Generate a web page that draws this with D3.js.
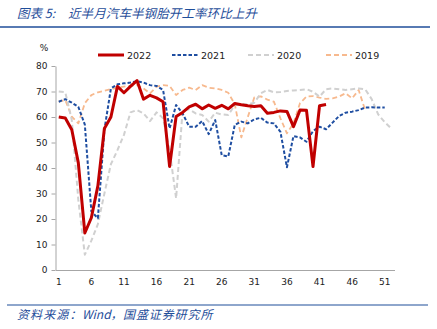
<!DOCTYPE html>
<html>
<head>
<meta charset="utf-8">
<script src="https://cdn.jsdelivr.net/npm/d3@7/dist/d3.min.js"></script>
<style>
  html, body { margin: 0; padding: 0; background: #fff; }
  svg { display: block; }
</style>
</head>
<body>
<svg id="chart" width="437" height="329"></svg>
<script>
// Weekly semi-steel tyre operating rate (%), week 1..52
const weeks = d3.range(1, 53);
const xTickWeeks = [1, 6, 11, 16, 21, 26, 31, 36, 41, 46, 51];
const yTicks = [0, 10, 20, 30, 40, 50, 60, 70, 80];

const rate2022 = [60, 59.6, 55, 42, 14.5, 20.5, 33, 55.5, 60, 72, 69.5, 72, 74.3, 67, 68.5, 67.5, 66, 40.6, 60.2, 61.8,
  64, 65, 63.2, 64.7, 63.4, 64.6, 63.2, 65.3, 64.8, 64.4, 64.1, 64.4, 61.5, 61.8, 62.4, 62.2, 56.2, 62.7, 62.6, 40.6,
  64.4, 64.9];
const rate2021 = [66, 67, 65.6, 64, 57, 23, 20.3, 55, 71.2, 72.8, 73.2, 73.5, 74, 73.5, 72.5, 72.2, 70.6, 55.5, 64.7, 61.4,
  56.2, 56.2, 58.4, 53.3, 58.8, 45, 44.5, 56.9, 58.2, 57.5, 59.1, 59.7, 57.8, 57.5, 54.2, 40.3, 52.5, 52, 50.3, 54.5,
  56.2, 55.2, 57.8, 60.4, 61.7, 62.1, 62.7, 63.7, 63.8, 63.7, 63.7];
const rate2020 = [70, 69.7, 58.8, 27.5, 6, 11.5, 18, 30, 41.5, 47, 53, 61.8, 62.7, 61.4, 58.4, 61.8, 59.5, 47, 28.1, 62.7,
  63, 61.4, 60.8, 58.2, 61.7, 61, 60.8, 64.7, 65, 65, 65.6, 69.3, 70.6, 69.7, 69.8, 70.2, 70.4, 70.6, 70.9, 69.9,
  68, 70.9, 71.2, 70.9, 70.6, 70.9, 71.2, 70.9, 67, 61, 58, 55.5];
const rate2019 = [66, 66.7, 60.1, 57.5, 65.4, 68.6, 69.7, 70.3, 70.9, 71.5, 71.9, 72.2, 72.5, 71.2, 69.3, 71.9, 72.5, 72.2, 68.6, 70.6,
  71.5, 70.6, 72.5, 71.5, 71.2, 70.6, 69.5, 65, 52, 60, 67.7, 68.1, 66.8, 66, 59.5, 53.6, 57.5, 65.4, 68, 68.2,
  67.6, 67.1, 67.3, 68, 69.3, 67.3, 70.6, 62.7];

const seriesNames = ["2022", "2021", "2020", "2019"];
const seriesValues = [rate2022, rate2021, rate2020, rate2019];

const styles = {
  "2022": { color: "#c00000", width: 3, dash: null },
  "2021": { color: "#1f4ea1", width: 2, dash: "3.5,2" },
  "2020": { color: "#d0d0d0", width: 2, dash: "5,3" },
  "2019": { color: "#f7b98e", width: 1.8, dash: "5,3" }
};

const svg = d3.select("#chart");
const numFont = "DejaVu Sans, Verdana, sans-serif";
const cjkFont = "'Noto Sans CJK SC', sans-serif";
const navy = "#1f4e9a";

// Title and rule
const title = svg.append("g")
  .attr("font-family", cjkFont).attr("font-size", 12.5)
  .attr("font-style", "italic").attr("fill", navy);
title.append("text").attr("x", 17).attr("y", 18).text("图表 5:");
title.append("text").attr("x", 68).attr("y", 18).attr("letter-spacing", 0.1)
  .text("近半月汽车半钢胎开工率环比上升");
svg.append("line")
  .attr("x1", 0).attr("x2", 430).attr("y1", 27).attr("y2", 27)
  .attr("stroke", navy).attr("stroke-width", 1.6);

// Source note and rule
svg.append("line")
  .attr("x1", 7).attr("x2", 428).attr("y1", 305).attr("y2", 305)
  .attr("stroke", navy).attr("stroke-width", 1.2);
const source = svg.append("g")
  .attr("font-family", cjkFont).attr("font-size", 12)
  .attr("font-style", "italic").attr("fill", navy);
source.append("text").attr("x", 17).attr("y", 318.5).attr("letter-spacing", 1.1).text("资料来源：");
source.append("text").attr("x", 82).attr("y", 318.5).text("Wind，");
source.append("text").attr("x", 123).attr("y", 318.5).attr("letter-spacing", 0.9).text("国盛证券研究所");

// Scales
const plot = { left: 55.5, right: 394.5, top: 66, bottom: 270 };
const x = d3.scaleBand().domain(weeks).range([plot.left, plot.right]);
const y = d3.scaleLinear().domain([0, 80]).range([plot.bottom, plot.top]);
const cx = w => x(w) + x.bandwidth() / 2;

// Axes
const axisColor = "#a6a6a6";
const yAxis = svg.append("g")
  .attr("transform", `translate(${plot.left},0)`)
  .call(d3.axisLeft(y).tickValues(yTicks).tickSize(4).tickSizeOuter(0).tickPadding(4));
const xAxis = svg.append("g")
  .attr("transform", `translate(0,${plot.bottom})`)
  .call(d3.axisBottom(x).tickValues(xTickWeeks).tickSize(0).tickPadding(9));
[yAxis, xAxis].forEach(g => {
  g.selectAll("path, line").attr("stroke", axisColor);
  g.selectAll("text").attr("font-family", numFont).attr("font-size", 9).attr("fill", "#222");
});

svg.append("text")
  .attr("x", 44).attr("y", 51)
  .attr("text-anchor", "middle")
  .attr("font-family", numFont).attr("font-size", 9).attr("fill", "#222")
  .text("%");

// Lines (drawn oldest first so 2022 sits on top)
const line = d3.line().x((d, i) => cx(weeks[i])).y(d => y(d));
[3, 2, 1, 0].forEach(k => {
  const st = styles[seriesNames[k]];
  svg.append("path")
    .datum(seriesValues[k])
    .attr("d", line)
    .attr("fill", "none")
    .attr("stroke", st.color)
    .attr("stroke-width", st.width)
    .attr("stroke-dasharray", st.dash)
    .attr("stroke-linejoin", "round");
});

// Legend
const legendX = [98, 172, 248, 326];
const legend = svg.append("g").attr("transform", "translate(0,55)");
seriesNames.forEach((name, i) => {
  const st = styles[name];
  legend.append("line")
    .attr("x1", legendX[i]).attr("x2", legendX[i] + 26)
    .attr("y1", 0).attr("y2", 0)
    .attr("stroke", st.color)
    .attr("stroke-width", name === "2022" ? 3 : 2)
    .attr("stroke-dasharray", st.dash);
  legend.append("text")
    .attr("x", legendX[i] + 29).attr("y", 3.5)
    .attr("font-family", numFont).attr("font-size", 9.5).attr("fill", "#222")
    .text(name);
});
</script>
</body>
</html>
